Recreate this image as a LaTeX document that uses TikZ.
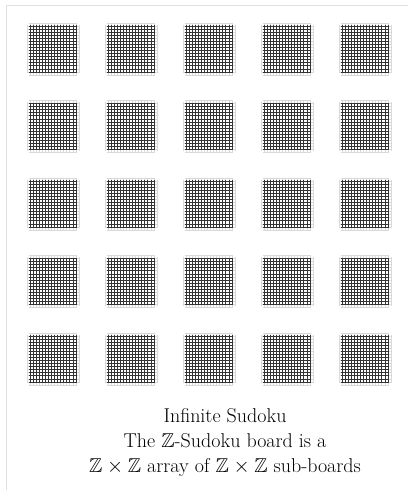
\documentclass[tikz,border=0pt]{standalone}
\usepackage{amssymb}
\tikzset{
  outer/.style={gray!30,line width=0.7pt},
  inner/.style={black!80,line width=0.7pt},
  frameline/.style={gray!25,line width=0.8pt},
  caption/.style={align=center,font=\fontsize{20}{25}\selectfont,inner sep=0pt}
}
\begin{document}
\begin{tikzpicture}[x=1pt,y=-1pt]
\useasboundingbox (0,0) rectangle (408,490);
\fill[white] (0,0) rectangle (408,490);
\draw[frameline] (6,490) -- (6,5) -- (408,5);
\pgfmathsetmacro{\s}{52/17}
\foreach \c in {0,...,4}{
  \foreach \r in {0,...,4}{
    \pgfmathsetmacro{\gx}{27+78*\c}
    \pgfmathsetmacro{\gy}{23+77.5*\r}
    \begin{scope}[shift={(\gx,\gy)}]
      \foreach \k in {0,17}{
        \draw[outer] (\k*\s,0.5*\s) -- (\k*\s,16.5*\s);
        \draw[outer] (0.5*\s,\k*\s) -- (16.5*\s,\k*\s);
      }
      \foreach \k in {1,...,16}{
        \draw[outer] (\k*\s,-0.5) -- (\k*\s,52.5);
        \draw[outer] (-0.5,\k*\s) -- (52.5,\k*\s);
        \draw[inner] (\k*\s,0.8*\s) -- (\k*\s,16.2*\s);
        \draw[inner] (0.8*\s,\k*\s) -- (16.2*\s,\k*\s);
      }
    \end{scope}
  }
}
\node[caption] (cap) at (225,443) {Infinite Sudoku\\The $\mathbb{Z}$-Sudoku board is a\\$\mathbb{Z}\times\mathbb{Z}$ array of $\mathbb{Z}\times\mathbb{Z}$ sub-boards};
\end{tikzpicture}
\end{document}
